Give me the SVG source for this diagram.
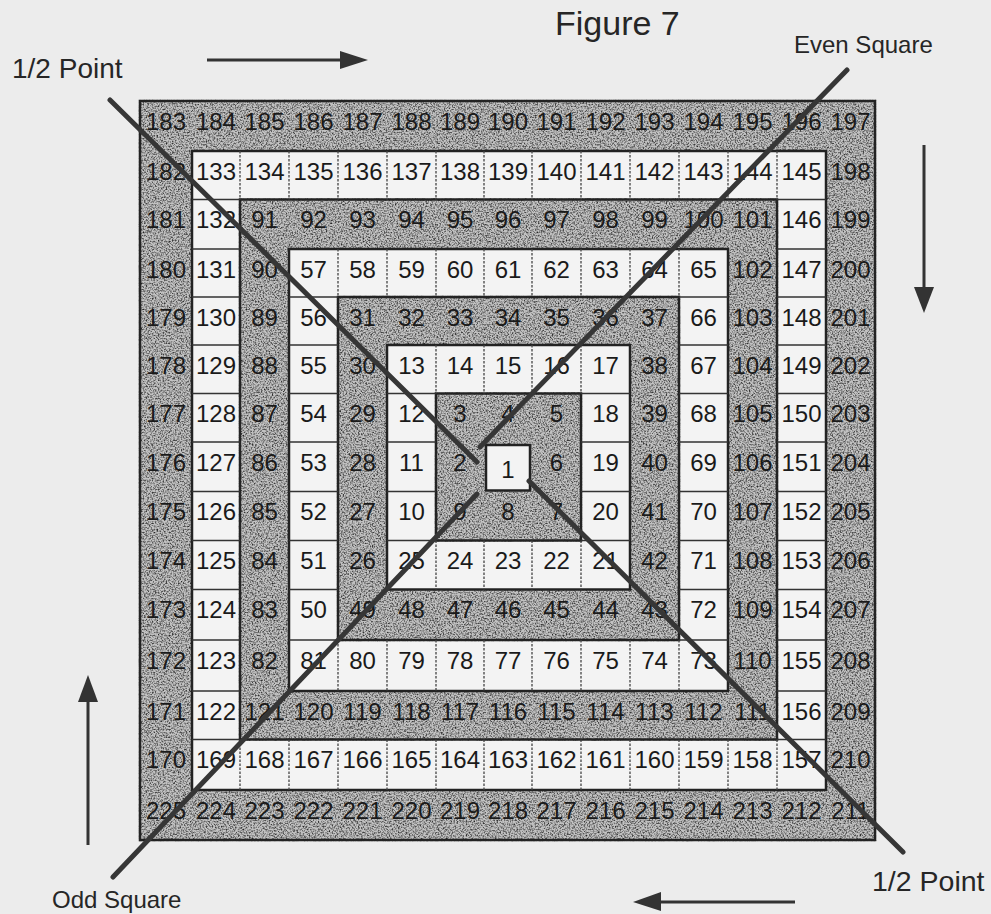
<svg xmlns="http://www.w3.org/2000/svg" width="991" height="914" viewBox="0 0 991 914">
<style>
.n{font-family:"Liberation Sans",Arial,sans-serif;font-size:24px;text-anchor:middle;fill:#1a1a1a}
.lbl{font-family:"Liberation Sans",Arial,sans-serif;fill:#262626}
.gray{fill:#c2c2c2;stroke:#222;stroke-width:2.5}
.white{fill:#f3f3f3;stroke:#222;stroke-width:2.5}
.dash{stroke:#444;stroke-width:1.3;stroke-dasharray:2.5 1.5;fill:none}
.solid{stroke:#333;stroke-width:1.6;fill:none}
.diag{stroke:#363636;stroke-width:5;stroke-linecap:round;fill:none}
.arr{stroke:#333;stroke-width:3;fill:none}
.head{fill:#333}
</style>
<defs>
<filter id="grain" x="-0.01" y="-0.01" width="1.02" height="1.02" color-interpolation-filters="sRGB">
<feTurbulence type="fractalNoise" baseFrequency="0.65" numOctaves="2" seed="7" result="noise"/>
<feColorMatrix in="noise" type="matrix" values="0 0 0 0 0.15  0 0 0 0 0.15  0 0 0 0 0.15  2.4 0 0 0 -1.0" result="specks"/>
<feComposite in="specks" in2="SourceGraphic" operator="in" result="clipped"/>
<feMerge><feMergeNode in="SourceGraphic"/><feMergeNode in="clipped"/></feMerge>
</filter>
</defs>
<rect x="0" y="0" width="991" height="914" fill="#ececec"/>

<!-- ring backgrounds -->
<g id="ring-shapes">
<rect class="gray" filter="url(#grain)" x="140" y="101" width="735" height="739"/>
<rect class="white" x="192" y="151" width="634" height="639"/>
<rect class="gray" filter="url(#grain)" x="240" y="199.5" width="537" height="540"/>
<rect class="white" x="289" y="249" width="439" height="442"/>
<rect class="gray" filter="url(#grain)" x="338" y="297" width="341" height="343"/>
<rect class="white" x="387" y="345" width="243" height="244.5"/>
<rect class="gray" filter="url(#grain)" x="436" y="393.5" width="145" height="147"/>
</g>

<!-- cell dividers inside white rings -->
<g id="dividers">
<path class="dash" d="M240 151V199.5M289 151V199.5M338 151V199.5M387 151V199.5M436 151V199.5M484 151V199.5M532 151V199.5M581 151V199.5M630 151V199.5M679 151V199.5M728 151V199.5M777 151V199.5"/>
<path class="dash" d="M240 739.5V790M289 739.5V790M338 739.5V790M387 739.5V790M436 739.5V790M484 739.5V790M532 739.5V790M581 739.5V790M630 739.5V790M679 739.5V790M728 739.5V790M777 739.5V790"/>
<path class="solid" d="M192 199.5H240M192 249H240M192 297H240M192 345H240M192 393.5H240M192 442H240M192 491.5H240M192 540.5H240M192 589.5H240M192 640H240M192 691H240M192 739.5H240"/>
<path class="solid" d="M777 199.5H826M777 249H826M777 297H826M777 345H826M777 393.5H826M777 442H826M777 491.5H826M777 540.5H826M777 589.5H826M777 640H826M777 691H826M777 739.5H826"/>
<path class="dash" d="M338 249V297M387 249V297M436 249V297M484 249V297M532 249V297M581 249V297M630 249V297M679 249V297"/>
<path class="dash" d="M338 640V691M387 640V691M436 640V691M484 640V691M532 640V691M581 640V691M630 640V691M679 640V691"/>
<path class="solid" d="M289 297H338M289 345H338M289 393.5H338M289 442H338M289 491.5H338M289 540.5H338M289 589.5H338M289 640H338"/>
<path class="solid" d="M679 297H728M679 345H728M679 393.5H728M679 442H728M679 491.5H728M679 540.5H728M679 589.5H728M679 640H728"/>
<path class="dash" d="M436 345V393.5M484 345V393.5M532 345V393.5M581 345V393.5"/>
<path class="dash" d="M436 540.5V589.5M484 540.5V589.5M532 540.5V589.5M581 540.5V589.5"/>
<path class="solid" d="M387 393.5H436M387 442H436M387 491.5H436M387 540.5H436"/>
<path class="solid" d="M581 393.5H630M581 442H630M581 491.5H630M581 540.5H630"/>
</g>

<g id="ring0">
<text class="n" x="166" y="129.5">183</text><text class="n" x="216" y="129.5">184</text><text class="n" x="264.5" y="129.5">185</text><text class="n" x="313.5" y="129.5">186</text><text class="n" x="362.5" y="129.5">187</text><text class="n" x="411.5" y="129.5">188</text><text class="n" x="460" y="129.5">189</text><text class="n" x="508" y="129.5">190</text><text class="n" x="556.5" y="129.5">191</text><text class="n" x="605.5" y="129.5">192</text><text class="n" x="654.5" y="129.5">193</text><text class="n" x="703.5" y="129.5">194</text><text class="n" x="752.5" y="129.5">195</text><text class="n" x="801.5" y="129.5">196</text><text class="n" x="850.5" y="129.5">197</text>
<text class="n" x="850.5" y="179.5">198</text><text class="n" x="850.5" y="228">199</text><text class="n" x="850.5" y="277.5">200</text><text class="n" x="850.5" y="325.5">201</text><text class="n" x="850.5" y="373.5">202</text><text class="n" x="850.5" y="422">203</text><text class="n" x="850.5" y="470.5">204</text><text class="n" x="850.5" y="520">205</text><text class="n" x="850.5" y="569">206</text><text class="n" x="850.5" y="618">207</text><text class="n" x="850.5" y="668.5">208</text><text class="n" x="850.5" y="719.5">209</text><text class="n" x="850.5" y="768">210</text>
<text class="n" x="166" y="818.5">225</text><text class="n" x="216" y="818.5">224</text><text class="n" x="264.5" y="818.5">223</text><text class="n" x="313.5" y="818.5">222</text><text class="n" x="362.5" y="818.5">221</text><text class="n" x="411.5" y="818.5">220</text><text class="n" x="460" y="818.5">219</text><text class="n" x="508" y="818.5">218</text><text class="n" x="556.5" y="818.5">217</text><text class="n" x="605.5" y="818.5">216</text><text class="n" x="654.5" y="818.5">215</text><text class="n" x="703.5" y="818.5">214</text><text class="n" x="752.5" y="818.5">213</text><text class="n" x="801.5" y="818.5">212</text><text class="n" x="850.5" y="818.5">211</text>
<text class="n" x="166" y="179.5">182</text><text class="n" x="166" y="228">181</text><text class="n" x="166" y="277.5">180</text><text class="n" x="166" y="325.5">179</text><text class="n" x="166" y="373.5">178</text><text class="n" x="166" y="422">177</text><text class="n" x="166" y="470.5">176</text><text class="n" x="166" y="520">175</text><text class="n" x="166" y="569">174</text><text class="n" x="166" y="618">173</text><text class="n" x="166" y="668.5">172</text><text class="n" x="166" y="719.5">171</text><text class="n" x="166" y="768">170</text>
</g>

<g id="ring1">
<text class="n" x="216" y="179.5">133</text><text class="n" x="264.5" y="179.5">134</text><text class="n" x="313.5" y="179.5">135</text><text class="n" x="362.5" y="179.5">136</text><text class="n" x="411.5" y="179.5">137</text><text class="n" x="460" y="179.5">138</text><text class="n" x="508" y="179.5">139</text><text class="n" x="556.5" y="179.5">140</text><text class="n" x="605.5" y="179.5">141</text><text class="n" x="654.5" y="179.5">142</text><text class="n" x="703.5" y="179.5">143</text><text class="n" x="752.5" y="179.5">144</text><text class="n" x="801.5" y="179.5">145</text>
<text class="n" x="801.5" y="228">146</text><text class="n" x="801.5" y="277.5">147</text><text class="n" x="801.5" y="325.5">148</text><text class="n" x="801.5" y="373.5">149</text><text class="n" x="801.5" y="422">150</text><text class="n" x="801.5" y="470.5">151</text><text class="n" x="801.5" y="520">152</text><text class="n" x="801.5" y="569">153</text><text class="n" x="801.5" y="618">154</text><text class="n" x="801.5" y="668.5">155</text><text class="n" x="801.5" y="719.5">156</text>
<text class="n" x="216" y="768">169</text><text class="n" x="264.5" y="768">168</text><text class="n" x="313.5" y="768">167</text><text class="n" x="362.5" y="768">166</text><text class="n" x="411.5" y="768">165</text><text class="n" x="460" y="768">164</text><text class="n" x="508" y="768">163</text><text class="n" x="556.5" y="768">162</text><text class="n" x="605.5" y="768">161</text><text class="n" x="654.5" y="768">160</text><text class="n" x="703.5" y="768">159</text><text class="n" x="752.5" y="768">158</text><text class="n" x="801.5" y="768">157</text>
<text class="n" x="216" y="228">132</text><text class="n" x="216" y="277.5">131</text><text class="n" x="216" y="325.5">130</text><text class="n" x="216" y="373.5">129</text><text class="n" x="216" y="422">128</text><text class="n" x="216" y="470.5">127</text><text class="n" x="216" y="520">126</text><text class="n" x="216" y="569">125</text><text class="n" x="216" y="618">124</text><text class="n" x="216" y="668.5">123</text><text class="n" x="216" y="719.5">122</text>
</g>

<g id="ring2">
<text class="n" x="264.5" y="228">91</text><text class="n" x="313.5" y="228">92</text><text class="n" x="362.5" y="228">93</text><text class="n" x="411.5" y="228">94</text><text class="n" x="460" y="228">95</text><text class="n" x="508" y="228">96</text><text class="n" x="556.5" y="228">97</text><text class="n" x="605.5" y="228">98</text><text class="n" x="654.5" y="228">99</text><text class="n" x="703.5" y="228">100</text><text class="n" x="752.5" y="228">101</text>
<text class="n" x="752.5" y="277.5">102</text><text class="n" x="752.5" y="325.5">103</text><text class="n" x="752.5" y="373.5">104</text><text class="n" x="752.5" y="422">105</text><text class="n" x="752.5" y="470.5">106</text><text class="n" x="752.5" y="520">107</text><text class="n" x="752.5" y="569">108</text><text class="n" x="752.5" y="618">109</text><text class="n" x="752.5" y="668.5">110</text>
<text class="n" x="264.5" y="719.5">121</text><text class="n" x="313.5" y="719.5">120</text><text class="n" x="362.5" y="719.5">119</text><text class="n" x="411.5" y="719.5">118</text><text class="n" x="460" y="719.5">117</text><text class="n" x="508" y="719.5">116</text><text class="n" x="556.5" y="719.5">115</text><text class="n" x="605.5" y="719.5">114</text><text class="n" x="654.5" y="719.5">113</text><text class="n" x="703.5" y="719.5">112</text><text class="n" x="752.5" y="719.5">111</text>
<text class="n" x="264.5" y="277.5">90</text><text class="n" x="264.5" y="325.5">89</text><text class="n" x="264.5" y="373.5">88</text><text class="n" x="264.5" y="422">87</text><text class="n" x="264.5" y="470.5">86</text><text class="n" x="264.5" y="520">85</text><text class="n" x="264.5" y="569">84</text><text class="n" x="264.5" y="618">83</text><text class="n" x="264.5" y="668.5">82</text>
</g>

<g id="ring3">
<text class="n" x="313.5" y="277.5">57</text><text class="n" x="362.5" y="277.5">58</text><text class="n" x="411.5" y="277.5">59</text><text class="n" x="460" y="277.5">60</text><text class="n" x="508" y="277.5">61</text><text class="n" x="556.5" y="277.5">62</text><text class="n" x="605.5" y="277.5">63</text><text class="n" x="654.5" y="277.5">64</text><text class="n" x="703.5" y="277.5">65</text>
<text class="n" x="703.5" y="325.5">66</text><text class="n" x="703.5" y="373.5">67</text><text class="n" x="703.5" y="422">68</text><text class="n" x="703.5" y="470.5">69</text><text class="n" x="703.5" y="520">70</text><text class="n" x="703.5" y="569">71</text><text class="n" x="703.5" y="618">72</text>
<text class="n" x="313.5" y="668.5">81</text><text class="n" x="362.5" y="668.5">80</text><text class="n" x="411.5" y="668.5">79</text><text class="n" x="460" y="668.5">78</text><text class="n" x="508" y="668.5">77</text><text class="n" x="556.5" y="668.5">76</text><text class="n" x="605.5" y="668.5">75</text><text class="n" x="654.5" y="668.5">74</text><text class="n" x="703.5" y="668.5">73</text>
<text class="n" x="313.5" y="325.5">56</text><text class="n" x="313.5" y="373.5">55</text><text class="n" x="313.5" y="422">54</text><text class="n" x="313.5" y="470.5">53</text><text class="n" x="313.5" y="520">52</text><text class="n" x="313.5" y="569">51</text><text class="n" x="313.5" y="618">50</text>
</g>

<g id="ring4">
<text class="n" x="362.5" y="325.5">31</text><text class="n" x="411.5" y="325.5">32</text><text class="n" x="460" y="325.5">33</text><text class="n" x="508" y="325.5">34</text><text class="n" x="556.5" y="325.5">35</text><text class="n" x="605.5" y="325.5">36</text><text class="n" x="654.5" y="325.5">37</text>
<text class="n" x="654.5" y="373.5">38</text><text class="n" x="654.5" y="422">39</text><text class="n" x="654.5" y="470.5">40</text><text class="n" x="654.5" y="520">41</text><text class="n" x="654.5" y="569">42</text>
<text class="n" x="362.5" y="618">49</text><text class="n" x="411.5" y="618">48</text><text class="n" x="460" y="618">47</text><text class="n" x="508" y="618">46</text><text class="n" x="556.5" y="618">45</text><text class="n" x="605.5" y="618">44</text><text class="n" x="654.5" y="618">43</text>
<text class="n" x="362.5" y="373.5">30</text><text class="n" x="362.5" y="422">29</text><text class="n" x="362.5" y="470.5">28</text><text class="n" x="362.5" y="520">27</text><text class="n" x="362.5" y="569">26</text>
</g>

<g id="ring5">
<text class="n" x="411.5" y="373.5">13</text><text class="n" x="460" y="373.5">14</text><text class="n" x="508" y="373.5">15</text><text class="n" x="556.5" y="373.5">16</text><text class="n" x="605.5" y="373.5">17</text>
<text class="n" x="605.5" y="422">18</text><text class="n" x="605.5" y="470.5">19</text><text class="n" x="605.5" y="520">20</text>
<text class="n" x="411.5" y="569">25</text><text class="n" x="460" y="569">24</text><text class="n" x="508" y="569">23</text><text class="n" x="556.5" y="569">22</text><text class="n" x="605.5" y="569">21</text>
<text class="n" x="411.5" y="422">12</text><text class="n" x="411.5" y="470.5">11</text><text class="n" x="411.5" y="520">10</text>
</g>

<g id="ring6">
<text class="n" x="460" y="422">3</text><text class="n" x="508" y="422">4</text><text class="n" x="556.5" y="422">5</text>
<text class="n" x="556.5" y="470.5">6</text>
<text class="n" x="460" y="520">9</text><text class="n" x="508" y="520">8</text><text class="n" x="556.5" y="520">7</text>
<text class="n" x="460" y="470.5">2</text>
</g>

<g id="center">
<rect class="white" x="486" y="445" width="44" height="45.5"/>
<text class="n" x="508" y="478">1</text>
</g>

<g id="connectors">
<line class="diag" x1="110" y1="100" x2="477" y2="462"/>
<line class="diag" x1="529" y1="481" x2="903" y2="852"/>
<line class="diag" x1="847" y1="70" x2="480" y2="447"/>
<line class="diag" x1="477" y1="494" x2="113" y2="877"/>
</g>

<g id="arrows">
<line class="arr" x1="207" y1="60" x2="342" y2="60"/>
<polygon class="head" points="340,51 368,60 340,69"/>
<line class="arr" x1="924" y1="145" x2="924" y2="289"/>
<polygon class="head" points="914,287 934,287 924,313"/>
<line class="arr" x1="88" y1="845" x2="88" y2="700"/>
<polygon class="head" points="78,702 98,702 88,675"/>
<line class="arr" x1="795" y1="902" x2="658" y2="902"/>
<polygon class="head" points="661,892 661,911 633,902"/>
</g>

<g id="labels">
<text class="lbl" x="555" y="35" font-size="34">Figure 7</text>
<text class="lbl" x="12" y="78" font-size="28">1/2 Point</text>
<text class="lbl" x="794" y="53" font-size="24">Even Square</text>
<text class="lbl" x="52" y="908" font-size="24">Odd Square</text>
<text class="lbl" x="872" y="891" font-size="28.5">1/2 Point</text>
</g>
</svg>
